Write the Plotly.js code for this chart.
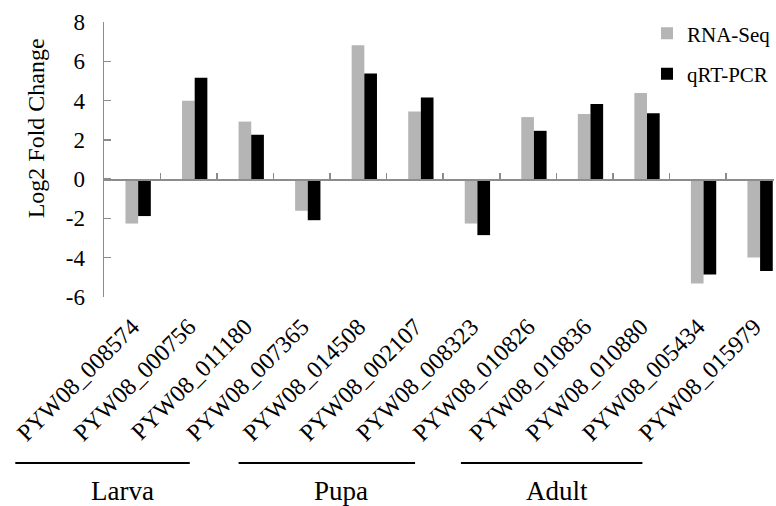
<!DOCTYPE html>
<html>
<head>
<meta charset="utf-8">
<script src="https://cdn.plot.ly/plotly-3.0.1.min.js"></script>
<style>html,body{margin:0;padding:0;background:#fff;}#chart{width:776px;height:506px;}</style>
</head>
<body>
<div id="chart"></div>
<script>
const genes = ["PYW08_008574","PYW08_000756","PYW08_011180","PYW08_007365","PYW08_014508","PYW08_002107","PYW08_008323","PYW08_010826","PYW08_010836","PYW08_010880","PYW08_005434","PYW08_015979"];
const rnaSeq = [-2.26, 3.99, 2.93, -1.61, 6.82, 3.44, -2.26, 3.16, 3.32, 4.38, -5.31, -3.99];
const qrtPcr = [-1.88, 5.16, 2.26, -2.09, 5.38, 4.16, -2.85, 2.46, 3.82, 3.36, -4.86, -4.67];
const stages = ["Larva", "Pupa", "Adult"];
const yTicks = [-6, -4, -2, 0, 2, 4, 6, 8];

const serif = "Liberation Serif";
const axisGray = "#8c8c8c";

const traces = [
  {type: "bar", name: "RNA-Seq", x: genes, y: rnaSeq, xaxis: "x", yaxis: "y", marker: {color: "#b5b5b5"}, offset: -0.12, width: 0.224, legendgroup: "a"},
  {type: "bar", name: "qRT-PCR", x: genes, y: qrtPcr, xaxis: "x2", yaxis: "y", marker: {color: "#000000"}, offset: 0.104, width: 0.224, legendgroup: "b"}
];

const xr = [-0.5, 11.35];

const layout = {
  width: 776, height: 506,
  margin: {l: 104, r: 0, t: 22, b: 209, pad: 0},
  paper_bgcolor: "#fff", plot_bgcolor: "#fff",
  font: {family: serif, size: 22, color: "#000"},
  showlegend: true,
  legend: {x: 0.811, y: 1.032, xanchor: "left", yanchor: "top", font: {family: serif, size: 21, color: "#000"}, traceorder: "grouped", tracegroupgap: 10, bgcolor: "rgba(0,0,0,0)"},
  xaxis: {
    type: "category", categoryorder: "array", categoryarray: genes,
    anchor: "free", position: 6/14, range: xr,
    showline: true, linecolor: axisGray, linewidth: 1.5,
    ticks: "inside", tickson: "boundaries", ticklen: 6, tickcolor: axisGray, tickwidth: 1.5,
    showticklabels: false, showgrid: false, zeroline: false, fixedrange: true
  },
  xaxis2: {
    type: "category", categoryorder: "array", categoryarray: genes,
    overlaying: "x", anchor: "y", side: "bottom", range: xr,
    tickangle: -45, tickfont: {family: serif, size: 24, color: "#000"},
    ticklabelstandoff: 10,
    showline: false, ticks: "", showgrid: false, zeroline: false, fixedrange: true
  },
  yaxis: {
    range: [-6, 8], tickmode: "array", tickvals: yTicks, ticktext: yTicks.map(String),
    showline: true, linecolor: axisGray, linewidth: 1.5,
    ticks: "inside", ticklen: 7, tickcolor: axisGray, tickwidth: 1.5,
    ticklabelstandoff: 13,
    tickfont: {family: serif, size: 23, color: "#000"},
    showgrid: false, zeroline: false, fixedrange: true
  },
  annotations: [
    {text: "Log2 Fold Change", xref: "paper", yref: "paper", x: -0.101, y: 0.6145, textangle: -90, showarrow: false, font: {family: serif, size: 24, color: "#000"}, xanchor: "center", yanchor: "middle"},
    {text: stages[0], xref: "paper", yref: "paper", x: 0.0283, y: -0.706, showarrow: false, font: {family: serif, size: 27, color: "#000"}, xanchor: "center", yanchor: "middle", borderpad: 0},
    {text: stages[1], xref: "paper", yref: "paper", x: 0.354, y: -0.706, showarrow: false, font: {family: serif, size: 27, color: "#000"}, xanchor: "center", yanchor: "middle", borderpad: 0},
    {text: stages[2], xref: "paper", yref: "paper", x: 0.676, y: -0.706, showarrow: false, font: {family: serif, size: 27, color: "#000"}, xanchor: "center", yanchor: "middle", borderpad: 0}
  ],
  shapes: [
    {type: "line", xref: "paper", yref: "paper", x0: -0.1324, x1: 0.128, y0: -0.6036, y1: -0.6036, line: {color: "#000", width: 2}},
    {type: "line", xref: "paper", yref: "paper", x0: 0.2009, x1: 0.4643, y0: -0.6036, y1: -0.6036, line: {color: "#000", width: 2}},
    {type: "line", xref: "paper", yref: "paper", x0: 0.5327, x1: 0.8036, y0: -0.6036, y1: -0.6036, line: {color: "#000", width: 2}}
  ]
};

Plotly.newPlot("chart", traces, layout, {displayModeBar: false, staticPlot: true});
</script>
</body>
</html>
